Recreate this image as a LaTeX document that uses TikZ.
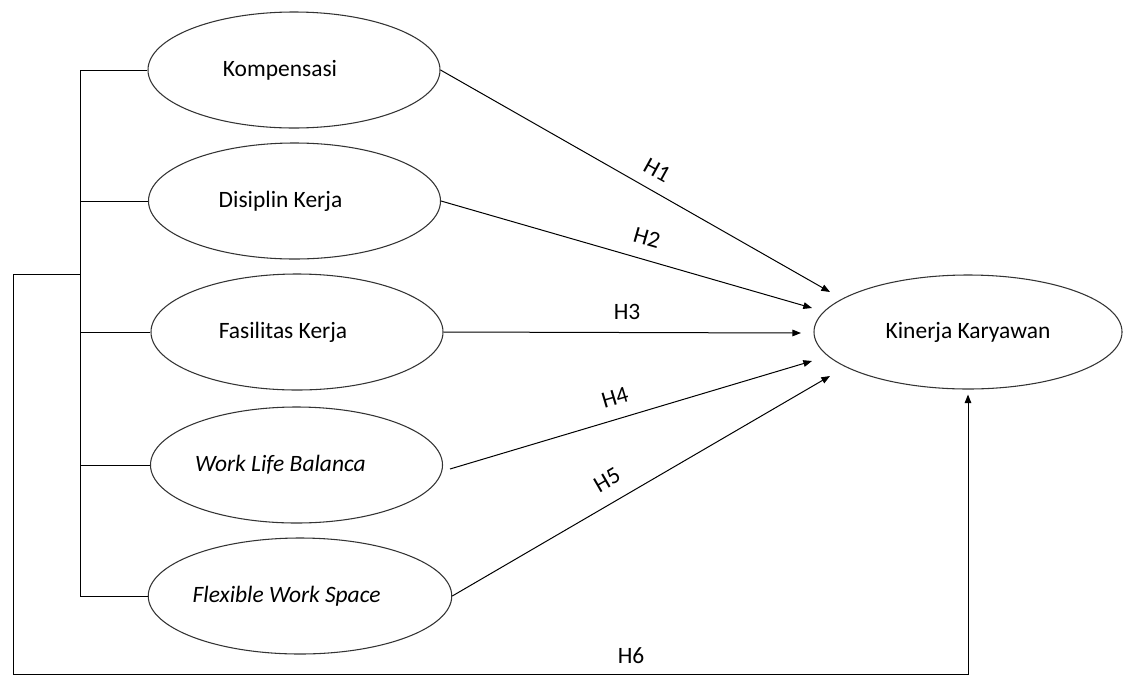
\documentclass[tikz,border=0pt]{standalone}
\usepackage{fontspec}
\setmainfont{Carlito}
\usetikzlibrary{shapes.geometric,arrows.meta}
\begin{document}
\begin{tikzpicture}[x=0.75pt,y=-0.75pt,
  var/.style={draw=black!80,line width=0.8pt,ellipse,inner sep=0pt,minimum width=219pt,minimum height=87pt,font=\fontsize{17.6}{20}\selectfont},
  lbl/.style={font=\fontsize{17.6}{20}\selectfont,inner sep=1pt},
  conn/.style={line width=0.75pt,draw=black},
  arr/.style={conn,-{Triangle[length=6.5pt,width=5pt]}}]
\useasboundingbox (0,0) rectangle (1127,679);
% variables
\node[var] (komp) at (294,70) {Kompensasi\hspace*{21pt}};
\node[var] (disi) at (294.5,201) {Disiplin Kerja\hspace*{21pt}};
\node[var] (fasi) at (297,332) {Fasilitas Kerja\hspace*{21pt}};
\node[var] (wlb)  at (296.5,465) {\itshape Work Life Balanca\hspace*{24pt}};
\node[var] (flex) at (300,596) {\itshape Flexible Work Space\hspace*{20pt}};
\node[var,minimum width=231pt,minimum height=85.5pt] (kin) at (968,332) {Kinerja Karyawan};
% bracket
\coordinate (b1) at (80,70);
\coordinate (b2) at (80,201);
\coordinate (bj) at (80,274);
\coordinate (b3) at (80,332);
\coordinate (b4) at (80,465);
\coordinate (b5) at (80,596);
\coordinate (o1) at (13.5,274);
\coordinate (o2) at (13.5,674);
\coordinate (o3) at (968,674);
\draw[conn] (b1) -- (b5);
\draw[conn] (b1) -- (komp.west);
\draw[conn] (b2) -- (disi.west);
\draw[conn] (b3) -- (fasi.west);
\draw[conn] (b4) -- (wlb.west);
\draw[conn] (b5) -- (flex.west);
\draw[arr,shorten >=5pt*0.75] (bj) -- (o1) -- (o2) -- (o3) -- (kin.south);
% arrow tips
\coordinate (t1) at (830,292);
\coordinate (t2) at (812,308);
\coordinate (t3) at (801,333);
\coordinate (t4) at (812,361);
\coordinate (t5) at (830,376);
\coordinate (s4) at (450,469);
\draw[arr] (komp.east) -- (t1);
\draw[arr] (disi.east) -- (t2);
\draw[arr] (fasi.east) -- (t3);
\draw[arr] (s4) -- (t4);
\draw[arr] (flex.east) -- (t5);
% labels
\node[lbl,rotate=-29] (h1) at (657,170) {H1};
\node[lbl,rotate=-16] (h2) at (647,238) {H2};
\node[lbl] (h3) at (627,312) {H3};
\node[lbl,rotate=16.5] (h4) at (615,398) {H4};
\node[lbl,rotate=30] (h5) at (607,480) {H5};
\node[lbl] (h6) at (631,656) {H6};
\end{tikzpicture}
\end{document}
